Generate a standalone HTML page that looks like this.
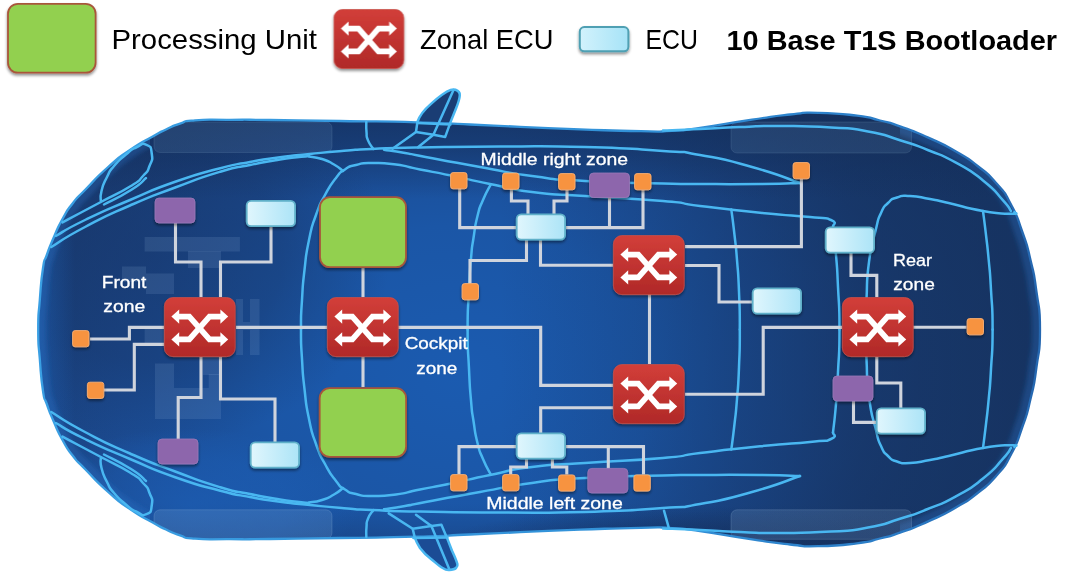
<!DOCTYPE html>
<html><head><meta charset="utf-8"><title>10 Base T1S Bootloader</title>
<style>html,body{margin:0;padding:0;background:#fff;overflow:hidden}svg{display:block}</style>
</head><body>
<svg width="1069" height="577" viewBox="0 0 1069 577">
<defs>
<radialGradient id="body" gradientUnits="userSpaceOnUse" cx="460" cy="375" r="570" gradientTransform="translate(0 375) scale(1 0.75) translate(0 -375)">
<stop offset="0" stop-color="#1b5bb0"/><stop offset="0.35" stop-color="#1b56a6"/><stop offset="0.6" stop-color="#1b4b92"/><stop offset="0.8" stop-color="#1a407b"/><stop offset="1" stop-color="#18396c"/>
</radialGradient>
<linearGradient id="rearshade" gradientUnits="userSpaceOnUse" x1="500" x2="1060" y1="0" y2="0"><stop offset="0" stop-color="#15305c" stop-opacity="0"/><stop offset="0.25" stop-color="#15305c" stop-opacity="0.2"/><stop offset="0.43" stop-color="#15305c" stop-opacity="0.4"/><stop offset="0.64" stop-color="#15305c" stop-opacity="0.6"/><stop offset="1" stop-color="#15305c" stop-opacity="0.65"/></linearGradient>
<radialGradient id="hoodshade" gradientUnits="userSpaceOnUse" cx="150" cy="255" r="240" gradientTransform="translate(0 255) scale(1 0.8) translate(0 -255)"><stop offset="0" stop-color="#162f5c" stop-opacity="0.5"/><stop offset="0.55" stop-color="#162f5c" stop-opacity="0.38"/><stop offset="1" stop-color="#162f5c" stop-opacity="0"/></radialGradient>
<radialGradient id="blglow" gradientUnits="userSpaceOnUse" cx="190" cy="505" r="170" gradientTransform="translate(0 505) scale(1 0.45) translate(0 -505)"><stop offset="0" stop-color="#1d66c4" stop-opacity="0.5"/><stop offset="0.6" stop-color="#1d66c4" stop-opacity="0.3"/><stop offset="1" stop-color="#1d66c4" stop-opacity="0"/></radialGradient>
<linearGradient id="frontglow" gradientUnits="userSpaceOnUse" x1="36" x2="75" y1="0" y2="0"><stop offset="0" stop-color="#1e6ac8" stop-opacity="0.7"/><stop offset="0.45" stop-color="#1e6ac8" stop-opacity="0.35"/><stop offset="1" stop-color="#1e6ac8" stop-opacity="0"/></linearGradient>
<linearGradient id="ostroke" gradientUnits="userSpaceOnUse" x1="37" x2="1040" y1="0" y2="0"><stop offset="0" stop-color="#3a9fe3"/><stop offset="0.6" stop-color="#3291d8"/><stop offset="0.85" stop-color="#2b7cc6"/><stop offset="1" stop-color="#2567b0"/></linearGradient>
<linearGradient id="bandshade" gradientUnits="userSpaceOnUse" x1="0" x2="0" y1="112" y2="547"><stop offset="0" stop-color="#142e5a" stop-opacity="0.75"/><stop offset="0.09" stop-color="#142e5a" stop-opacity="0.5"/><stop offset="0.2" stop-color="#142e5a" stop-opacity="0"/><stop offset="0.9" stop-color="#142e5a" stop-opacity="0"/><stop offset="1" stop-color="#142e5a" stop-opacity="0.3"/></linearGradient>
<linearGradient id="red" x1="0" x2="0" y1="0" y2="1"><stop offset="0" stop-color="#d23e39"/><stop offset="1" stop-color="#b02928"/></linearGradient>
<linearGradient id="ecul" x1="0" x2="1" y1="0" y2="0"><stop offset="0" stop-color="#d2f2fc"/><stop offset="1" stop-color="#a6e3f7"/></linearGradient>
<linearGradient id="ecu" x1="0" x2="1" y1="0" y2="0"><stop offset="0" stop-color="#e0f6fd"/><stop offset="1" stop-color="#ace4f7"/></linearGradient>
<filter id="sh" x="-20%" y="-20%" width="140%" height="150%"><feGaussianBlur in="SourceAlpha" stdDeviation="1.6"/><feOffset dy="2"/><feComponentTransfer><feFuncA type="linear" slope="0.45"/></feComponentTransfer><feMerge><feMergeNode/><feMergeNode in="SourceGraphic"/></feMerge></filter>
<filter id="blur2" x="-5%" y="-5%" width="110%" height="110%"><feGaussianBlur stdDeviation="2"/></filter>
<filter id="blur1"><feGaussianBlur stdDeviation="0.5"/></filter>
<clipPath id="rimclip"><rect x="0" y="0" width="150" height="577"/><rect x="900" y="0" width="169" height="577"/></clipPath>
<radialGradient id="botshade"><stop offset="0" stop-color="#142e5a" stop-opacity="0.55"/><stop offset="0.5" stop-color="#142e5a" stop-opacity="0.4"/><stop offset="1" stop-color="#142e5a" stop-opacity="0"/></radialGradient>
<clipPath id="carclip"><path d="M38.2,329.5 C38.2,309.8 38.2,320.5 39.8,300.0 C41.4,279.5 40.7,283.0 43.0,268.0 C45.3,253.0 43.3,265.0 46.8,255.0 C50.3,245.0 48.3,250.0 53.5,238.0 C58.7,226.0 56.0,230.7 62.5,219.0 C69.0,207.3 65.5,212.7 73.0,203.0 C80.5,193.3 73.5,201.8 85.0,190.0 C96.5,178.2 92.6,180.8 107.6,167.5 C122.6,154.2 115.0,160.3 130.0,150.0 C145.0,139.7 140.7,143.3 152.7,136.5 C164.7,129.7 156.9,133.8 166.0,129.5 C175.1,125.2 170.3,126.7 180.0,123.6 C189.7,120.5 178.3,121.6 195.0,120.3 C211.7,119.0 205.0,119.9 230.0,119.8 C255.0,119.7 233.3,119.6 270.0,120.0 C306.7,120.4 291.0,120.2 340.0,121.0 C389.0,121.8 373.7,121.1 417.0,122.3 C460.3,123.5 435.7,123.0 470.0,124.5 C504.3,126.0 483.3,125.2 520.0,126.8 C556.7,128.4 539.7,127.8 580.0,129.3 C620.3,130.8 610.3,130.7 641.0,131.2 C671.7,131.7 652.3,131.9 672.0,130.8 C691.7,129.7 673.3,131.5 700.0,127.8 C726.7,124.1 722.0,124.0 752.0,119.6 C782.0,115.2 768.0,116.8 790.0,114.5 C812.0,112.2 795.7,112.4 818.0,112.8 C840.3,113.2 836.3,113.1 857.0,115.7 C877.7,118.3 865.7,117.0 880.0,120.5 C894.3,124.0 884.1,120.7 900.0,126.3 C915.9,131.9 909.2,129.1 927.7,137.4 C946.2,145.7 938.9,141.8 955.5,151.3 C972.1,160.8 963.8,155.1 977.6,166.0 C991.4,176.9 985.9,171.2 997.0,184.0 C1008.1,196.8 1002.7,188.8 1011.0,204.5 C1019.3,220.2 1015.5,212.5 1022.0,231.0 C1028.5,249.5 1025.7,239.7 1030.5,260.0 C1035.3,280.3 1033.3,268.8 1036.5,292.0 C1039.7,315.2 1040.0,304.5 1040.0,329.5 C1040.0,354.5 1039.7,343.8 1036.5,367.0 C1033.3,390.2 1035.3,378.7 1030.5,399.0 C1025.7,419.3 1028.5,409.5 1022.0,428.0 C1015.5,446.5 1019.3,438.8 1011.0,454.5 C1002.7,470.2 1008.1,462.2 997.0,475.0 C985.9,487.8 991.4,482.1 977.6,493.0 C963.8,503.9 972.1,498.2 955.5,507.7 C938.9,517.2 946.2,513.3 927.7,521.6 C909.2,529.9 915.9,527.1 900.0,532.7 C884.1,538.3 894.3,535.0 880.0,538.5 C865.7,542.0 877.7,540.7 857.0,543.3 C836.3,545.9 840.3,545.8 818.0,546.2 C795.7,546.6 812.0,546.8 790.0,544.5 C768.0,542.2 782.0,543.8 752.0,539.4 C722.0,535.0 726.7,534.9 700.0,531.2 C673.3,527.5 691.7,529.3 672.0,528.2 C652.3,527.1 671.7,527.3 641.0,527.8 C610.3,528.3 620.3,528.2 580.0,529.7 C539.7,531.2 556.7,530.6 520.0,532.2 C483.3,533.8 504.3,533.0 470.0,534.5 C435.7,536.0 460.3,535.5 417.0,536.7 C373.7,537.9 389.0,537.2 340.0,538.0 C291.0,538.8 306.7,538.6 270.0,539.0 C233.3,539.4 255.0,539.3 230.0,539.2 C205.0,539.1 211.7,540.0 195.0,538.7 C178.3,537.4 189.7,538.5 180.0,535.4 C170.3,532.3 175.1,533.8 166.0,529.5 C156.9,525.2 164.7,529.3 152.7,522.5 C140.7,515.7 145.0,519.3 130.0,509.0 C115.0,498.7 122.6,504.8 107.6,491.5 C92.6,478.2 96.5,480.8 85.0,469.0 C73.5,457.2 80.5,465.7 73.0,456.0 C65.5,446.3 69.0,451.7 62.5,440.0 C56.0,428.3 58.7,433.0 53.5,421.0 C48.3,409.0 50.3,414.0 46.8,404.0 C43.3,394.0 45.3,406.0 43.0,391.0 C40.7,376.0 41.4,379.5 39.8,359.0 C38.2,338.5 38.2,349.2 38.2,329.5Z"/></clipPath>
<g id="icon">
<rect x="0.4" y="0.6" width="70.8" height="59" rx="8.5" ry="8.5" fill="url(#red)" stroke="#c8504a" stroke-width="0.8"/>
<g fill="none" stroke="#fff" stroke-width="5.7" stroke-linejoin="miter">
<path d="M14.5,19.6 H25.3 L45.5,42.4 H57"/><path d="M14.5,42.4 H25.3 L45.5,19.6 H57"/>
</g>
<g fill="#fff"><path d="M7.4,19.6 L15.2,12.4 V26.8Z"/><path d="M7.4,42.4 L15.2,35.2 V49.6Z"/><path d="M64.2,19.6 L56.4,12.4 V26.8Z"/><path d="M64.2,42.4 L56.4,35.2 V49.6Z"/></g>
</g>
</defs>
<rect width="1069" height="577" fill="#fff"/>
<g>
<path d="M417.4,122 C419,117 425,109 431.3,103.6 C437,98.5 445,92 450.7,89.9 C452.5,89.3 454,89.3 455.5,89.8 C458.5,90.8 460,93 459.8,95.5 C459.5,99.5 458,103.5 456.3,107.7 L450.7,121.6 L445.2,136.9 L433.4,134.8 L416,132 Z" fill="#1a3d74"/>
<path d="M412.7,528.7 L414.7,537.4 C416,541 418,545 420,548 C423,552 427,556 430.7,558.7 C435,562 439,566 442.7,568 C445,569.5 447.5,570.3 449.4,570 C452.5,569.8 455,569 456,568 C457.5,566.5 457.8,565.5 457.4,564 C456,559 454,555 452,550.7 L446.8,537.4 L441.4,524.7 L431.4,526 Z" fill="#1b4c95"/>
<path d="M38.2,329.5 C38.2,309.8 38.2,320.5 39.8,300.0 C41.4,279.5 40.7,283.0 43.0,268.0 C45.3,253.0 43.3,265.0 46.8,255.0 C50.3,245.0 48.3,250.0 53.5,238.0 C58.7,226.0 56.0,230.7 62.5,219.0 C69.0,207.3 65.5,212.7 73.0,203.0 C80.5,193.3 73.5,201.8 85.0,190.0 C96.5,178.2 92.6,180.8 107.6,167.5 C122.6,154.2 115.0,160.3 130.0,150.0 C145.0,139.7 140.7,143.3 152.7,136.5 C164.7,129.7 156.9,133.8 166.0,129.5 C175.1,125.2 170.3,126.7 180.0,123.6 C189.7,120.5 178.3,121.6 195.0,120.3 C211.7,119.0 205.0,119.9 230.0,119.8 C255.0,119.7 233.3,119.6 270.0,120.0 C306.7,120.4 291.0,120.2 340.0,121.0 C389.0,121.8 373.7,121.1 417.0,122.3 C460.3,123.5 435.7,123.0 470.0,124.5 C504.3,126.0 483.3,125.2 520.0,126.8 C556.7,128.4 539.7,127.8 580.0,129.3 C620.3,130.8 610.3,130.7 641.0,131.2 C671.7,131.7 652.3,131.9 672.0,130.8 C691.7,129.7 673.3,131.5 700.0,127.8 C726.7,124.1 722.0,124.0 752.0,119.6 C782.0,115.2 768.0,116.8 790.0,114.5 C812.0,112.2 795.7,112.4 818.0,112.8 C840.3,113.2 836.3,113.1 857.0,115.7 C877.7,118.3 865.7,117.0 880.0,120.5 C894.3,124.0 884.1,120.7 900.0,126.3 C915.9,131.9 909.2,129.1 927.7,137.4 C946.2,145.7 938.9,141.8 955.5,151.3 C972.1,160.8 963.8,155.1 977.6,166.0 C991.4,176.9 985.9,171.2 997.0,184.0 C1008.1,196.8 1002.7,188.8 1011.0,204.5 C1019.3,220.2 1015.5,212.5 1022.0,231.0 C1028.5,249.5 1025.7,239.7 1030.5,260.0 C1035.3,280.3 1033.3,268.8 1036.5,292.0 C1039.7,315.2 1040.0,304.5 1040.0,329.5 C1040.0,354.5 1039.7,343.8 1036.5,367.0 C1033.3,390.2 1035.3,378.7 1030.5,399.0 C1025.7,419.3 1028.5,409.5 1022.0,428.0 C1015.5,446.5 1019.3,438.8 1011.0,454.5 C1002.7,470.2 1008.1,462.2 997.0,475.0 C985.9,487.8 991.4,482.1 977.6,493.0 C963.8,503.9 972.1,498.2 955.5,507.7 C938.9,517.2 946.2,513.3 927.7,521.6 C909.2,529.9 915.9,527.1 900.0,532.7 C884.1,538.3 894.3,535.0 880.0,538.5 C865.7,542.0 877.7,540.7 857.0,543.3 C836.3,545.9 840.3,545.8 818.0,546.2 C795.7,546.6 812.0,546.8 790.0,544.5 C768.0,542.2 782.0,543.8 752.0,539.4 C722.0,535.0 726.7,534.9 700.0,531.2 C673.3,527.5 691.7,529.3 672.0,528.2 C652.3,527.1 671.7,527.3 641.0,527.8 C610.3,528.3 620.3,528.2 580.0,529.7 C539.7,531.2 556.7,530.6 520.0,532.2 C483.3,533.8 504.3,533.0 470.0,534.5 C435.7,536.0 460.3,535.5 417.0,536.7 C373.7,537.9 389.0,537.2 340.0,538.0 C291.0,538.8 306.7,538.6 270.0,539.0 C233.3,539.4 255.0,539.3 230.0,539.2 C205.0,539.1 211.7,540.0 195.0,538.7 C178.3,537.4 189.7,538.5 180.0,535.4 C170.3,532.3 175.1,533.8 166.0,529.5 C156.9,525.2 164.7,529.3 152.7,522.5 C140.7,515.7 145.0,519.3 130.0,509.0 C115.0,498.7 122.6,504.8 107.6,491.5 C92.6,478.2 96.5,480.8 85.0,469.0 C73.5,457.2 80.5,465.7 73.0,456.0 C65.5,446.3 69.0,451.7 62.5,440.0 C56.0,428.3 58.7,433.0 53.5,421.0 C48.3,409.0 50.3,414.0 46.8,404.0 C43.3,394.0 45.3,406.0 43.0,391.0 C40.7,376.0 41.4,379.5 39.8,359.0 C38.2,338.5 38.2,349.2 38.2,329.5Z" fill="url(#body)"/>
<g clip-path="url(#carclip)">
<rect x="500" y="100" width="560" height="460" fill="url(#rearshade)"/>
<rect x="30" y="100" width="1020" height="460" fill="url(#bandshade)"/>
<rect x="30" y="90" width="420" height="420" fill="url(#hoodshade)"/>
<rect x="20" y="420" width="360" height="130" fill="url(#blglow)"/>
<rect x="30" y="230" width="50" height="230" fill="url(#frontglow)" opacity="0.7"/>
<g clip-path="url(#rimclip)"><path d="M38.2,329.5 C38.2,309.8 38.2,320.5 39.8,300.0 C41.4,279.5 40.7,283.0 43.0,268.0 C45.3,253.0 43.3,265.0 46.8,255.0 C50.3,245.0 48.3,250.0 53.5,238.0 C58.7,226.0 56.0,230.7 62.5,219.0 C69.0,207.3 65.5,212.7 73.0,203.0 C80.5,193.3 73.5,201.8 85.0,190.0 C96.5,178.2 92.6,180.8 107.6,167.5 C122.6,154.2 115.0,160.3 130.0,150.0 C145.0,139.7 140.7,143.3 152.7,136.5 C164.7,129.7 156.9,133.8 166.0,129.5 C175.1,125.2 170.3,126.7 180.0,123.6 C189.7,120.5 178.3,121.6 195.0,120.3 C211.7,119.0 205.0,119.9 230.0,119.8 C255.0,119.7 233.3,119.6 270.0,120.0 C306.7,120.4 291.0,120.2 340.0,121.0 C389.0,121.8 373.7,121.1 417.0,122.3 C460.3,123.5 435.7,123.0 470.0,124.5 C504.3,126.0 483.3,125.2 520.0,126.8 C556.7,128.4 539.7,127.8 580.0,129.3 C620.3,130.8 610.3,130.7 641.0,131.2 C671.7,131.7 652.3,131.9 672.0,130.8 C691.7,129.7 673.3,131.5 700.0,127.8 C726.7,124.1 722.0,124.0 752.0,119.6 C782.0,115.2 768.0,116.8 790.0,114.5 C812.0,112.2 795.7,112.4 818.0,112.8 C840.3,113.2 836.3,113.1 857.0,115.7 C877.7,118.3 865.7,117.0 880.0,120.5 C894.3,124.0 884.1,120.7 900.0,126.3 C915.9,131.9 909.2,129.1 927.7,137.4 C946.2,145.7 938.9,141.8 955.5,151.3 C972.1,160.8 963.8,155.1 977.6,166.0 C991.4,176.9 985.9,171.2 997.0,184.0 C1008.1,196.8 1002.7,188.8 1011.0,204.5 C1019.3,220.2 1015.5,212.5 1022.0,231.0 C1028.5,249.5 1025.7,239.7 1030.5,260.0 C1035.3,280.3 1033.3,268.8 1036.5,292.0 C1039.7,315.2 1040.0,304.5 1040.0,329.5 C1040.0,354.5 1039.7,343.8 1036.5,367.0 C1033.3,390.2 1035.3,378.7 1030.5,399.0 C1025.7,419.3 1028.5,409.5 1022.0,428.0 C1015.5,446.5 1019.3,438.8 1011.0,454.5 C1002.7,470.2 1008.1,462.2 997.0,475.0 C985.9,487.8 991.4,482.1 977.6,493.0 C963.8,503.9 972.1,498.2 955.5,507.7 C938.9,517.2 946.2,513.3 927.7,521.6 C909.2,529.9 915.9,527.1 900.0,532.7 C884.1,538.3 894.3,535.0 880.0,538.5 C865.7,542.0 877.7,540.7 857.0,543.3 C836.3,545.9 840.3,545.8 818.0,546.2 C795.7,546.6 812.0,546.8 790.0,544.5 C768.0,542.2 782.0,543.8 752.0,539.4 C722.0,535.0 726.7,534.9 700.0,531.2 C673.3,527.5 691.7,529.3 672.0,528.2 C652.3,527.1 671.7,527.3 641.0,527.8 C610.3,528.3 620.3,528.2 580.0,529.7 C539.7,531.2 556.7,530.6 520.0,532.2 C483.3,533.8 504.3,533.0 470.0,534.5 C435.7,536.0 460.3,535.5 417.0,536.7 C373.7,537.9 389.0,537.2 340.0,538.0 C291.0,538.8 306.7,538.6 270.0,539.0 C233.3,539.4 255.0,539.3 230.0,539.2 C205.0,539.1 211.7,540.0 195.0,538.7 C178.3,537.4 189.7,538.5 180.0,535.4 C170.3,532.3 175.1,533.8 166.0,529.5 C156.9,525.2 164.7,529.3 152.7,522.5 C140.7,515.7 145.0,519.3 130.0,509.0 C115.0,498.7 122.6,504.8 107.6,491.5 C92.6,478.2 96.5,480.8 85.0,469.0 C73.5,457.2 80.5,465.7 73.0,456.0 C65.5,446.3 69.0,451.7 62.5,440.0 C56.0,428.3 58.7,433.0 53.5,421.0 C48.3,409.0 50.3,414.0 46.8,404.0 C43.3,394.0 45.3,406.0 43.0,391.0 C40.7,376.0 41.4,379.5 39.8,359.0 C38.2,338.5 38.2,349.2 38.2,329.5Z" fill="none" stroke="#2a74c8" stroke-opacity="0.32" stroke-width="16" filter="url(#blur2)"/></g>
<ellipse cx="700" cy="548" rx="270" ry="42" fill="url(#botshade)"/>
<rect x="154" y="122" width="178" height="30.5" rx="6" fill="#9fc4ec" fill-opacity="0.11" stroke="#b8d4f0" stroke-opacity="0.12" stroke-width="1"/>
<rect x="154" y="509.8" width="178" height="29" rx="6" fill="#9fc4ec" fill-opacity="0.16" stroke="#b8d4f0" stroke-opacity="0.18" stroke-width="1"/>
<rect x="731" y="122" width="180.5" height="31" rx="6" fill="#9fc4ec" fill-opacity="0.11" stroke="#b8d4f0" stroke-opacity="0.12" stroke-width="1"/>
<rect x="731" y="509.8" width="180.5" height="29.5" rx="6" fill="#9fc4ec" fill-opacity="0.16" stroke="#b8d4f0" stroke-opacity="0.18" stroke-width="1"/>
<g fill="#a9c6ee" fill-opacity="0.13">
<rect x="144.6" y="237" width="95.3" height="14.5"/>
<rect x="188" y="251" width="33" height="17"/>
<rect x="122" y="266.5" width="24" height="15.5"/>
<rect x="146" y="273.5" width="28" height="20.5"/>
<rect x="236" y="299" width="7" height="56"/>
<rect x="250" y="299" width="9.5" height="56"/>
<rect x="243" y="322" width="7" height="8"/>
<rect x="144.6" y="327" width="20.4" height="17.5"/>
<rect x="155" y="363.5" width="19" height="55.5"/>
<rect x="174" y="388" width="47" height="31"/>
<rect x="208.7" y="374" width="12.3" height="14"/>
<rect x="203" y="357" width="16" height="18"/>
</g>
</g>
<path d="M38.2,329.5 C38.2,309.8 38.2,320.5 39.8,300.0 C41.4,279.5 40.7,283.0 43.0,268.0 C45.3,253.0 43.3,265.0 46.8,255.0 C50.3,245.0 48.3,250.0 53.5,238.0 C58.7,226.0 56.0,230.7 62.5,219.0 C69.0,207.3 65.5,212.7 73.0,203.0 C80.5,193.3 73.5,201.8 85.0,190.0 C96.5,178.2 92.6,180.8 107.6,167.5 C122.6,154.2 115.0,160.3 130.0,150.0 C145.0,139.7 140.7,143.3 152.7,136.5 C164.7,129.7 156.9,133.8 166.0,129.5 C175.1,125.2 170.3,126.7 180.0,123.6 C189.7,120.5 178.3,121.6 195.0,120.3 C211.7,119.0 205.0,119.9 230.0,119.8 C255.0,119.7 233.3,119.6 270.0,120.0 C306.7,120.4 291.0,120.2 340.0,121.0 C389.0,121.8 373.7,121.1 417.0,122.3 C460.3,123.5 435.7,123.0 470.0,124.5 C504.3,126.0 483.3,125.2 520.0,126.8 C556.7,128.4 539.7,127.8 580.0,129.3 C620.3,130.8 610.3,130.7 641.0,131.2 C671.7,131.7 652.3,131.9 672.0,130.8 C691.7,129.7 673.3,131.5 700.0,127.8 C726.7,124.1 722.0,124.0 752.0,119.6 C782.0,115.2 768.0,116.8 790.0,114.5 C812.0,112.2 795.7,112.4 818.0,112.8 C840.3,113.2 836.3,113.1 857.0,115.7 C877.7,118.3 865.7,117.0 880.0,120.5 C894.3,124.0 884.1,120.7 900.0,126.3 C915.9,131.9 909.2,129.1 927.7,137.4 C946.2,145.7 938.9,141.8 955.5,151.3 C972.1,160.8 963.8,155.1 977.6,166.0 C991.4,176.9 985.9,171.2 997.0,184.0 C1008.1,196.8 1002.7,188.8 1011.0,204.5 C1019.3,220.2 1015.5,212.5 1022.0,231.0 C1028.5,249.5 1025.7,239.7 1030.5,260.0 C1035.3,280.3 1033.3,268.8 1036.5,292.0 C1039.7,315.2 1040.0,304.5 1040.0,329.5 C1040.0,354.5 1039.7,343.8 1036.5,367.0 C1033.3,390.2 1035.3,378.7 1030.5,399.0 C1025.7,419.3 1028.5,409.5 1022.0,428.0 C1015.5,446.5 1019.3,438.8 1011.0,454.5 C1002.7,470.2 1008.1,462.2 997.0,475.0 C985.9,487.8 991.4,482.1 977.6,493.0 C963.8,503.9 972.1,498.2 955.5,507.7 C938.9,517.2 946.2,513.3 927.7,521.6 C909.2,529.9 915.9,527.1 900.0,532.7 C884.1,538.3 894.3,535.0 880.0,538.5 C865.7,542.0 877.7,540.7 857.0,543.3 C836.3,545.9 840.3,545.8 818.0,546.2 C795.7,546.6 812.0,546.8 790.0,544.5 C768.0,542.2 782.0,543.8 752.0,539.4 C722.0,535.0 726.7,534.9 700.0,531.2 C673.3,527.5 691.7,529.3 672.0,528.2 C652.3,527.1 671.7,527.3 641.0,527.8 C610.3,528.3 620.3,528.2 580.0,529.7 C539.7,531.2 556.7,530.6 520.0,532.2 C483.3,533.8 504.3,533.0 470.0,534.5 C435.7,536.0 460.3,535.5 417.0,536.7 C373.7,537.9 389.0,537.2 340.0,538.0 C291.0,538.8 306.7,538.6 270.0,539.0 C233.3,539.4 255.0,539.3 230.0,539.2 C205.0,539.1 211.7,540.0 195.0,538.7 C178.3,537.4 189.7,538.5 180.0,535.4 C170.3,532.3 175.1,533.8 166.0,529.5 C156.9,525.2 164.7,529.3 152.7,522.5 C140.7,515.7 145.0,519.3 130.0,509.0 C115.0,498.7 122.6,504.8 107.6,491.5 C92.6,478.2 96.5,480.8 85.0,469.0 C73.5,457.2 80.5,465.7 73.0,456.0 C65.5,446.3 69.0,451.7 62.5,440.0 C56.0,428.3 58.7,433.0 53.5,421.0 C48.3,409.0 50.3,414.0 46.8,404.0 C43.3,394.0 45.3,406.0 43.0,391.0 C40.7,376.0 41.4,379.5 39.8,359.0 C38.2,338.5 38.2,349.2 38.2,329.5Z" fill="none" stroke="url(#ostroke)" stroke-width="2.3"/>
<g fill="none" stroke="#49b7f1" stroke-width="2.5" stroke-linecap="round" stroke-linejoin="round">
<g>
<path d="M55.8,236.0 C65.5,230.7 60.3,232.0 85.0,220.0 C109.7,208.0 99.9,212.7 130.0,200.0 C160.1,187.3 145.1,192.4 175.2,181.8 C205.3,171.2 195.4,174.9 220.3,168.3 C245.2,161.7 230.1,165.7 250.0,162.0 C269.9,158.3 260.0,160.0 280.0,157.3 C300.0,154.6 288.7,156.2 310.0,154.0 C331.3,151.8 323.3,152.5 344.0,150.8 C364.7,149.1 346.7,150.1 372.0,149.0 C397.3,147.9 377.3,148.3 420.0,147.5 C462.7,146.7 445.0,146.7 500.0,146.5 C555.0,146.3 530.7,145.5 585.0,147.0 C639.3,148.5 624.7,148.3 663.0,151.0 C701.3,153.7 670.3,149.7 700.0,155.0 C729.7,160.3 718.7,157.7 752.0,167.0 C785.3,176.3 784.0,177.7 800.0,183.0"/>
<path d="M51.3,247.0 C62.5,240.3 58.8,240.8 85.0,227.0 C111.2,213.2 99.9,218.7 130.0,205.5 C160.1,192.3 145.1,198.8 175.2,187.5 C205.3,176.2 195.4,179.2 220.3,171.7 C245.2,164.2 230.1,169.1 250.0,165.0 C269.9,160.9 260.3,162.5 280.0,159.5 C299.7,156.5 299.3,157.2 309.0,156.0"/>
<path d="M62.5,222.4 C69.0,218.9 69.2,218.8 82.0,212.0 C94.8,205.2 84.9,210.5 100.9,202.0 C116.9,193.5 116.0,195.2 130.0,186.5 C144.0,177.8 136.5,182.8 143.0,176.0 C149.5,169.2 146.6,173.3 149.5,166.0 C152.4,158.7 152.8,161.1 151.8,154.0 C150.8,146.9 151.8,147.0 146.5,144.8 C141.2,142.6 143.0,144.2 136.0,147.5 C129.0,150.8 132.9,148.6 125.6,154.8 C118.3,161.0 120.2,158.6 114.0,166.0 C107.8,173.4 111.2,168.7 107.0,177.0 C102.8,185.3 103.5,182.7 101.5,191.0 C99.5,199.3 101.1,198.3 100.9,202.0"/>
<path d="M104.0,204.5 C113.0,199.7 117.0,198.8 131.0,190.0 C145.0,181.2 141.0,182.0 146.0,178.0"/>
<path d="M309.0,156.5 C313.3,157.3 313.7,156.3 322.0,159.0 C330.3,161.7 327.0,160.5 334.0,164.5 C341.0,168.5 340.0,168.8 343.0,171.0"/>
<path d="M301.0,329.5 C301.0,309.8 300.8,319.8 302.0,300.0 C303.2,280.2 302.2,290.0 304.5,270.0 C306.8,250.0 305.2,258.3 309.0,240.0 C312.8,221.7 310.7,230.0 316.0,215.0 C321.3,200.0 318.3,207.3 325.0,195.0 C331.7,182.7 329.3,186.5 336.0,178.0 C342.7,169.5 338.3,173.8 345.0,169.5 C351.7,165.2 347.0,167.2 356.0,165.0 C365.0,162.8 358.7,163.1 372.0,163.0 C385.3,162.9 380.0,162.4 396.0,164.6 C412.0,166.8 401.7,165.9 420.0,169.5 C438.3,173.1 427.7,170.7 451.0,175.5 C474.3,180.3 463.0,178.5 490.0,184.0 C517.0,189.5 500.3,188.0 532.0,192.0 C563.7,196.0 541.3,193.0 585.0,196.0 C628.7,199.0 624.7,197.7 663.0,201.0 C701.3,204.3 667.7,202.1 700.0,206.0 C732.3,209.9 723.3,209.0 760.0,212.7 C796.7,216.4 786.3,214.6 810.0,217.0 C833.7,219.4 823.3,216.8 831.0,220.0 C838.7,223.2 832.3,224.3 833.0,226.5"/>
<path d="M384.0,149.7 C391.0,150.8 391.1,150.6 405.0,153.0 C418.9,155.4 400.6,152.3 425.6,157.0 C450.6,161.7 444.5,160.7 480.0,167.0 C515.5,173.3 497.0,171.3 532.0,176.0 C567.0,180.7 541.3,178.5 585.0,181.0 C628.7,183.5 624.7,182.5 663.0,183.5 C701.3,184.5 667.7,183.8 700.0,184.0 C732.3,184.2 726.7,184.3 760.0,184.0 C793.3,183.7 786.7,183.3 800.0,183.0"/>
<path d="M366.3,122.0 C366.4,125.3 365.9,125.9 366.5,132.0 C367.1,138.1 365.7,134.7 368.0,140.4 C370.3,146.1 371.6,146.1 373.4,149.0"/>
<path d="M490.7,184.6 C488.1,189.7 487.4,189.5 483.0,200.0 C478.6,210.5 480.7,203.3 477.5,216.0 C474.3,228.7 475.7,223.8 473.5,238.0 C471.3,252.2 472.5,241.4 471.0,258.7 C469.5,276.0 470.1,266.4 469.0,290.0 C467.9,313.6 467.6,303.2 467.6,329.5"/>
<path d="M731.3,209.4 C732.4,217.9 732.6,218.1 734.5,235.0 C736.4,251.9 735.5,241.0 737.0,260.0 C738.5,279.0 738.1,268.8 739.0,292.0 C739.9,315.2 739.8,304.5 739.8,329.5"/>
<path d="M833.0,226.5 C834.0,236.0 834.3,234.8 836.0,255.0 C837.7,275.2 836.8,262.2 838.0,287.0 C839.2,311.8 839.5,301.2 839.5,329.5"/>
<path d="M865.7,329.5 C865.7,309.8 865.4,322.5 866.5,300.0 C867.6,277.5 866.0,285.0 869.0,262.0 C872.0,239.0 871.5,247.3 875.5,231.0 C879.5,214.7 876.8,222.3 881.0,213.0 C885.2,203.7 882.7,208.2 888.0,203.0 C893.3,197.8 889.7,199.8 897.0,197.5 C904.3,195.2 899.0,195.5 910.0,196.0 C921.0,196.5 917.1,196.7 930.0,199.0 C942.9,201.3 931.0,199.0 948.7,203.0 C966.4,207.0 962.2,207.4 983.0,211.0 C1003.8,214.6 1000.5,213.4 1011.0,213.7 C1021.5,214.0 1013.3,212.6 1014.5,212.0"/>
<path d="M983.0,211.0 C984.0,219.0 984.1,218.7 986.0,235.0 C987.9,251.3 987.0,241.7 988.7,260.0 C990.4,278.3 989.7,266.8 991.0,290.0 C992.3,313.2 992.6,303.2 992.6,329.5"/>
<path d="M663.0,130.5 C675.3,130.0 674.3,130.2 700.0,129.0 C725.7,127.8 713.8,128.0 740.0,127.0 C766.2,126.0 748.3,125.8 778.6,126.0 C808.9,126.2 801.2,125.7 831.0,127.5 C860.8,129.3 845.0,127.3 868.0,131.5 C891.0,135.7 880.1,134.0 900.0,140.2 C919.9,146.4 909.2,142.6 927.7,150.0 C946.2,157.4 937.1,152.3 955.5,162.4 C973.9,172.5 967.3,167.9 983.0,180.4 C998.7,192.9 993.3,189.6 1002.6,199.8 C1011.9,210.0 1008.2,207.3 1011.0,211.0"/>
<path d="M417.4,122 C419,117 425,109 431.3,103.6 C437,98.5 445,92 450.7,89.9 C452.5,89.3 454,89.3 455.5,89.8 C458.5,90.8 460,93 459.8,95.5 C459.5,99.5 458,103.5 456.3,107.7 L450.7,121.6 L445.2,136.9 L433.4,134.8 L416,132 Z"/>
<path d="M453.5,90 L433.4,134.8"/>
<path d="M417.4,123 L450.5,124.4"/>
<path d="M416,132 L392.5,148.7"/>
<path d="M433.4,134.8 L418,147.2"/>
</g>
<g transform="matrix(1 0 0 -1 0 659)">
<path d="M55.8,236.0 C65.5,230.7 60.3,232.0 85.0,220.0 C109.7,208.0 99.9,212.7 130.0,200.0 C160.1,187.3 145.1,192.4 175.2,181.8 C205.3,171.2 195.4,174.9 220.3,168.3 C245.2,161.7 230.1,165.7 250.0,162.0 C269.9,158.3 260.0,160.0 280.0,157.3 C300.0,154.6 288.7,156.2 310.0,154.0 C331.3,151.8 323.3,152.5 344.0,150.8 C364.7,149.1 346.7,150.1 372.0,149.0 C397.3,147.9 377.3,148.3 420.0,147.5 C462.7,146.7 445.0,146.7 500.0,146.5 C555.0,146.3 530.7,145.5 585.0,147.0 C639.3,148.5 624.7,148.3 663.0,151.0 C701.3,153.7 670.3,149.7 700.0,155.0 C729.7,160.3 718.7,157.7 752.0,167.0 C785.3,176.3 784.0,177.7 800.0,183.0"/>
<path d="M51.3,247.0 C62.5,240.3 58.8,240.8 85.0,227.0 C111.2,213.2 99.9,218.7 130.0,205.5 C160.1,192.3 145.1,198.8 175.2,187.5 C205.3,176.2 195.4,179.2 220.3,171.7 C245.2,164.2 230.1,169.1 250.0,165.0 C269.9,160.9 260.3,162.5 280.0,159.5 C299.7,156.5 299.3,157.2 309.0,156.0"/>
<path d="M62.5,222.4 C69.0,218.9 69.2,218.8 82.0,212.0 C94.8,205.2 84.9,210.5 100.9,202.0 C116.9,193.5 116.0,195.2 130.0,186.5 C144.0,177.8 136.5,182.8 143.0,176.0 C149.5,169.2 146.6,173.3 149.5,166.0 C152.4,158.7 152.8,161.1 151.8,154.0 C150.8,146.9 151.8,147.0 146.5,144.8 C141.2,142.6 143.0,144.2 136.0,147.5 C129.0,150.8 132.9,148.6 125.6,154.8 C118.3,161.0 120.2,158.6 114.0,166.0 C107.8,173.4 111.2,168.7 107.0,177.0 C102.8,185.3 103.5,182.7 101.5,191.0 C99.5,199.3 101.1,198.3 100.9,202.0"/>
<path d="M104.0,204.5 C113.0,199.7 117.0,198.8 131.0,190.0 C145.0,181.2 141.0,182.0 146.0,178.0"/>
<path d="M309.0,156.5 C313.3,157.3 313.7,156.3 322.0,159.0 C330.3,161.7 327.0,160.5 334.0,164.5 C341.0,168.5 340.0,168.8 343.0,171.0"/>
<path d="M301.0,329.5 C301.0,309.8 300.8,319.8 302.0,300.0 C303.2,280.2 302.2,290.0 304.5,270.0 C306.8,250.0 305.2,258.3 309.0,240.0 C312.8,221.7 310.7,230.0 316.0,215.0 C321.3,200.0 318.3,207.3 325.0,195.0 C331.7,182.7 329.3,186.5 336.0,178.0 C342.7,169.5 338.3,173.8 345.0,169.5 C351.7,165.2 347.0,167.2 356.0,165.0 C365.0,162.8 358.7,163.1 372.0,163.0 C385.3,162.9 380.0,162.4 396.0,164.6 C412.0,166.8 401.7,165.9 420.0,169.5 C438.3,173.1 427.7,170.7 451.0,175.5 C474.3,180.3 463.0,178.5 490.0,184.0 C517.0,189.5 500.3,188.0 532.0,192.0 C563.7,196.0 541.3,193.0 585.0,196.0 C628.7,199.0 624.7,197.7 663.0,201.0 C701.3,204.3 667.7,202.1 700.0,206.0 C732.3,209.9 723.3,209.0 760.0,212.7 C796.7,216.4 786.3,214.6 810.0,217.0 C833.7,219.4 823.3,216.8 831.0,220.0 C838.7,223.2 832.3,224.3 833.0,226.5"/>
<path d="M384.0,149.7 C391.0,150.8 391.1,150.6 405.0,153.0 C418.9,155.4 400.6,152.3 425.6,157.0 C450.6,161.7 444.5,160.7 480.0,167.0 C515.5,173.3 497.0,171.3 532.0,176.0 C567.0,180.7 541.3,178.5 585.0,181.0 C628.7,183.5 624.7,182.5 663.0,183.5 C701.3,184.5 667.7,183.8 700.0,184.0 C732.3,184.2 726.7,184.3 760.0,184.0 C793.3,183.7 786.7,183.3 800.0,183.0"/>
<path d="M366.3,122.0 C366.4,125.3 365.9,125.9 366.5,132.0 C367.1,138.1 365.7,134.7 368.0,140.4 C370.3,146.1 371.6,146.1 373.4,149.0"/>
<path d="M490.7,184.6 C488.1,189.7 487.4,189.5 483.0,200.0 C478.6,210.5 480.7,203.3 477.5,216.0 C474.3,228.7 475.7,223.8 473.5,238.0 C471.3,252.2 472.5,241.4 471.0,258.7 C469.5,276.0 470.1,266.4 469.0,290.0 C467.9,313.6 467.6,303.2 467.6,329.5"/>
<path d="M731.3,209.4 C732.4,217.9 732.6,218.1 734.5,235.0 C736.4,251.9 735.5,241.0 737.0,260.0 C738.5,279.0 738.1,268.8 739.0,292.0 C739.9,315.2 739.8,304.5 739.8,329.5"/>
<path d="M833.0,226.5 C834.0,236.0 834.3,234.8 836.0,255.0 C837.7,275.2 836.8,262.2 838.0,287.0 C839.2,311.8 839.5,301.2 839.5,329.5"/>
<path d="M865.7,329.5 C865.7,309.8 865.4,322.5 866.5,300.0 C867.6,277.5 866.0,285.0 869.0,262.0 C872.0,239.0 871.5,247.3 875.5,231.0 C879.5,214.7 876.8,222.3 881.0,213.0 C885.2,203.7 882.7,208.2 888.0,203.0 C893.3,197.8 889.7,199.8 897.0,197.5 C904.3,195.2 899.0,195.5 910.0,196.0 C921.0,196.5 917.1,196.7 930.0,199.0 C942.9,201.3 931.0,199.0 948.7,203.0 C966.4,207.0 962.2,207.4 983.0,211.0 C1003.8,214.6 1000.5,213.4 1011.0,213.7 C1021.5,214.0 1013.3,212.6 1014.5,212.0"/>
<path d="M983.0,211.0 C984.0,219.0 984.1,218.7 986.0,235.0 C987.9,251.3 987.0,241.7 988.7,260.0 C990.4,278.3 989.7,266.8 991.0,290.0 C992.3,313.2 992.6,303.2 992.6,329.5"/>
<path d="M663.0,130.5 C675.3,130.0 674.3,130.2 700.0,129.0 C725.7,127.8 713.8,128.0 740.0,127.0 C766.2,126.0 748.3,125.8 778.6,126.0 C808.9,126.2 801.2,125.7 831.0,127.5 C860.8,129.3 845.0,127.3 868.0,131.5 C891.0,135.7 880.1,134.0 900.0,140.2 C919.9,146.4 909.2,142.6 927.7,150.0 C946.2,157.4 937.1,152.3 955.5,162.4 C973.9,172.5 967.3,167.9 983.0,180.4 C998.7,192.9 993.3,189.6 1002.6,199.8 C1011.9,210.0 1008.2,207.3 1011.0,211.0"/>
</g>
<path d="M412.7,528.7 L414.7,537.4 C416,541 418,545 420,548 C423,552 427,556 430.7,558.7 C435,562 439,566 442.7,568 C445,569.5 447.5,570.3 449.4,570 C452.5,569.8 455,569 456,568 C457.5,566.5 457.8,565.5 457.4,564 C456,559 454,555 452,550.7 L446.8,537.4 L441.4,524.7 L431.4,526 Z"/>
<path d="M431.4,526 L449.4,569.6"/>
<path d="M413.4,538 L447.4,537.4"/>
<path d="M388.7,513.4 L412.7,528.7"/>
<path d="M416,514.7 L431.4,526"/>
<path d="M664,510.7 L669,528.6"/>
</g>
</g>
<g fill="none" stroke="#cfd4dd" stroke-width="3.1" stroke-linejoin="miter">
<path d="M175.5,223 V262 H201 V297"/>
<path d="M271,226 V262 H220.5 V297"/>
<path d="M90,339 H129.4 V327.4 H164"/>
<path d="M104,390 H134.3 V344.4 H164"/>
<path d="M201,357 V397.5 H178.2 V439"/>
<path d="M220.5,357 V399 H275 V442"/>
<path d="M236,327.4 H327"/>
<path d="M398,327.4 H540.7 V385.4 H613"/>
<path d="M363,268 V297"/>
<path d="M363,357 V387"/>
<path d="M459.7,173 V227.6 H516"/>
<path d="M470,283 V260.5 H526.5 V239.5"/>
<path d="M511.4,189 V201 H528 V214"/>
<path d="M567,190 V201 H554 V214"/>
<path d="M566,227.6 H643 V190"/>
<path d="M609.5,197 V227.6"/>
<path d="M540.5,239.5 V265.3 H613"/>
<path d="M685,246.6 H801.4 V179"/>
<path d="M685,265.5 H719 V302 H752"/>
<path d="M649.5,294 V364"/>
<path d="M613,407.7 H540.7 V433"/>
<path d="M685,394.3 H763.2 V327.4 H842"/>
<path d="M516,446.6 H459 V474"/>
<path d="M526.5,459 V467 H510.7 V474"/>
<path d="M552.4,459 V467 H566.8 V474.5"/>
<path d="M566,446.6 H643.5 V474.5"/>
<path d="M608.3,446.6 V468.5"/>
<path d="M851,252 V275.4 H876.8 V297"/>
<path d="M912,327.3 H966.5"/>
<path d="M876.8,357 V383 H900.8 V408"/>
<path d="M853.5,401 V422.4 H876"/>
</g>
<g filter="url(#sh)">
<rect x="320" y="197.1" width="86" height="70.1" rx="10" fill="#92d050" stroke="#a8563a" stroke-width="1.8"/>
<rect x="319.7" y="388.2" width="86.4" height="68.6" rx="10" fill="#92d050" stroke="#a8563a" stroke-width="1.8"/>
<rect x="155" y="198" width="40" height="25" rx="4" fill="#8d66ac" stroke="#9a78b8" stroke-width="0.8"/>
<rect x="158" y="439" width="40" height="25" rx="4" fill="#8d66ac" stroke="#9a78b8" stroke-width="0.8"/>
<rect x="589.5" y="173" width="40" height="24.5" rx="4" fill="#8d66ac" stroke="#9a78b8" stroke-width="0.8"/>
<rect x="587.8" y="468.4" width="40" height="24.6" rx="4" fill="#8d66ac" stroke="#9a78b8" stroke-width="0.8"/>
<rect x="833" y="376" width="40" height="25" rx="4" fill="#8d66ac" stroke="#9a78b8" stroke-width="0.8"/>
<rect x="246.7" y="200.8" width="48.4" height="25.4" rx="4.5" fill="url(#ecu)" stroke="#5fb0c9" stroke-width="1.8"/>
<rect x="250.7" y="442.3" width="48.4" height="25.4" rx="4.5" fill="url(#ecu)" stroke="#5fb0c9" stroke-width="1.8"/>
<rect x="516.7" y="214.3" width="48.4" height="25.4" rx="4.5" fill="url(#ecu)" stroke="#5fb0c9" stroke-width="1.8"/>
<rect x="516.7" y="433.3" width="48.4" height="25.4" rx="4.5" fill="url(#ecu)" stroke="#5fb0c9" stroke-width="1.8"/>
<rect x="752.7" y="288.3" width="48.4" height="25.4" rx="4.5" fill="url(#ecu)" stroke="#5fb0c9" stroke-width="1.8"/>
<rect x="825.7" y="227.3" width="48.4" height="25.4" rx="4.5" fill="url(#ecu)" stroke="#5fb0c9" stroke-width="1.8"/>
<rect x="876.7" y="408.3" width="48.4" height="25.4" rx="4.5" fill="url(#ecu)" stroke="#5fb0c9" stroke-width="1.8"/>
<rect x="72.6" y="330.6" width="16.4" height="16.2" rx="2.5" fill="#f7933f" stroke="#f9b074" stroke-width="0.9"/>
<rect x="87.4" y="382.2" width="16.4" height="16.2" rx="2.5" fill="#f7933f" stroke="#f9b074" stroke-width="0.9"/>
<rect x="450.6" y="172.6" width="16.4" height="16.2" rx="2.5" fill="#f7933f" stroke="#f9b074" stroke-width="0.9"/>
<rect x="502.6" y="173.1" width="16.4" height="16.2" rx="2.5" fill="#f7933f" stroke="#f9b074" stroke-width="0.9"/>
<rect x="558.6" y="173.6" width="16.4" height="16.2" rx="2.5" fill="#f7933f" stroke="#f9b074" stroke-width="0.9"/>
<rect x="634.6" y="173.6" width="16.4" height="16.2" rx="2.5" fill="#f7933f" stroke="#f9b074" stroke-width="0.9"/>
<rect x="462.1" y="283.6" width="16.4" height="16.2" rx="2.5" fill="#f7933f" stroke="#f9b074" stroke-width="0.9"/>
<rect x="793.1" y="162.6" width="16.4" height="16.2" rx="2.5" fill="#f7933f" stroke="#f9b074" stroke-width="0.9"/>
<rect x="967.1" y="318.6" width="16.4" height="16.2" rx="2.5" fill="#f7933f" stroke="#f9b074" stroke-width="0.9"/>
<rect x="450.6" y="474.6" width="16.4" height="16.2" rx="2.5" fill="#f7933f" stroke="#f9b074" stroke-width="0.9"/>
<rect x="502.6" y="474.6" width="16.4" height="16.2" rx="2.5" fill="#f7933f" stroke="#f9b074" stroke-width="0.9"/>
<rect x="558.6" y="474.9" width="16.4" height="16.2" rx="2.5" fill="#f7933f" stroke="#f9b074" stroke-width="0.9"/>
<rect x="633.9" y="474.9" width="16.4" height="16.2" rx="2.5" fill="#f7933f" stroke="#f9b074" stroke-width="0.9"/>
<use href="#icon" x="164" y="297"/>
<use href="#icon" x="327" y="297"/>
<use href="#icon" x="613" y="235"/>
<use href="#icon" x="613" y="364"/>
<use href="#icon" x="842" y="297"/>
</g>
<g filter="url(#sh)">
<rect x="8" y="3.8" width="87.6" height="68.9" rx="10" fill="#92d050" stroke="#a8563a" stroke-width="1.8"/>
<use href="#icon" x="0" y="0" transform="translate(333.6 9) scale(0.985 1)"/>
<rect x="579.8" y="27.1" width="48.6" height="24.2" rx="4.5" fill="url(#ecul)" stroke="#4fa0b3" stroke-width="2"/>
</g>
<g font-family="'Liberation Sans', sans-serif" fill="#000" font-size="28">
<text x="111.5" y="49" textLength="205.5" lengthAdjust="spacingAndGlyphs">Processing Unit</text>
<text x="420" y="49" textLength="133.5" lengthAdjust="spacingAndGlyphs">Zonal ECU</text>
<text x="645.5" y="49" textLength="52.5" lengthAdjust="spacingAndGlyphs">ECU</text>
<text x="726.5" y="49.5" font-weight="bold" textLength="330.5" lengthAdjust="spacingAndGlyphs">10 Base T1S Bootloader</text>
</g>
<g font-family="'Liberation Sans', sans-serif" fill="#fff" font-size="16.8" stroke="#fff" stroke-width="0.3">
<text x="101.8" y="287.5" textLength="44.6" lengthAdjust="spacingAndGlyphs">Front</text>
<text x="103.3" y="311.5" textLength="42" lengthAdjust="spacingAndGlyphs">zone</text>
<text x="404.7" y="348.6" textLength="63" lengthAdjust="spacingAndGlyphs">Cockpit</text>
<text x="416.3" y="373.5" textLength="41" lengthAdjust="spacingAndGlyphs">zone</text>
<text x="480.5" y="165.4" textLength="147.5" lengthAdjust="spacingAndGlyphs">Middle right zone</text>
<text x="486.3" y="509" textLength="136.5" lengthAdjust="spacingAndGlyphs">Middle left zone</text>
<text x="893" y="266.3" textLength="39" lengthAdjust="spacingAndGlyphs">Rear</text>
<text x="893.3" y="290.3" textLength="41.5" lengthAdjust="spacingAndGlyphs">zone</text>
</g>
</svg>
</body></html>
